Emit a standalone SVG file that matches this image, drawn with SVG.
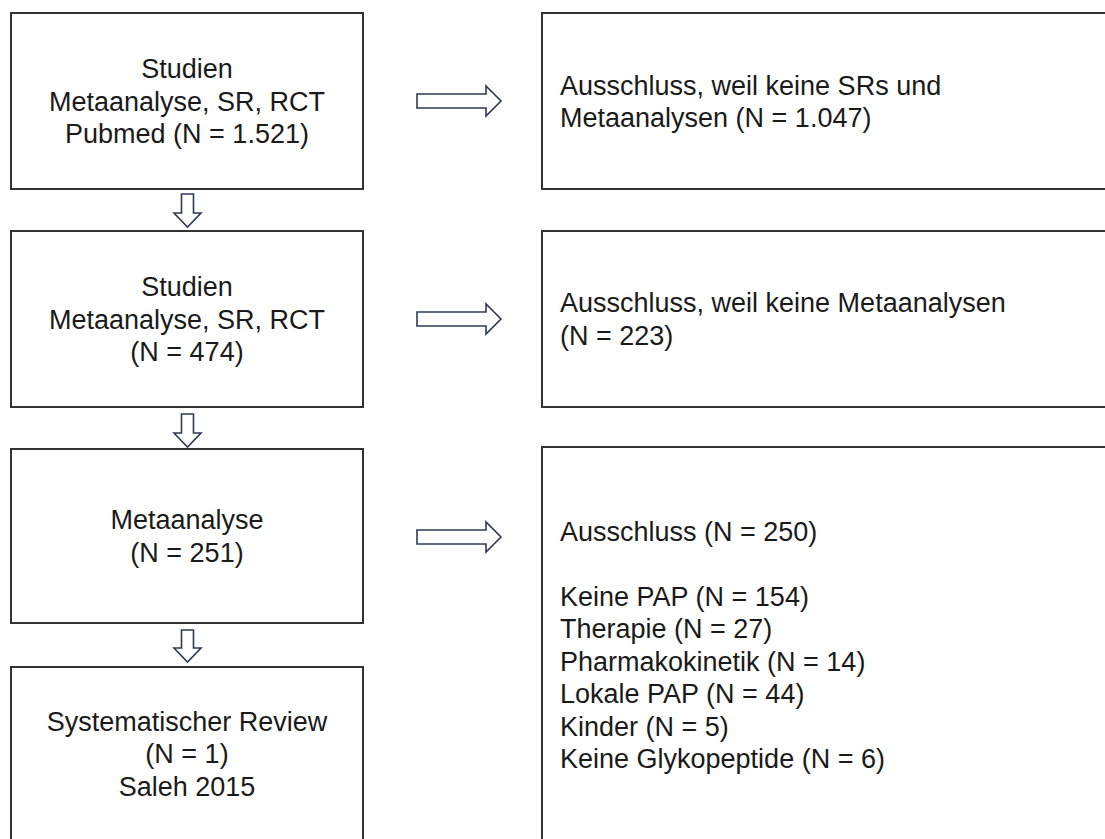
<svg xmlns="http://www.w3.org/2000/svg" width="1105" height="839" viewBox="0 0 1105 839">
<style>
.box{fill:#fff;stroke:#333;stroke-width:2}
.arr{fill:#fff;stroke:#2e3a55;stroke-width:1.6;stroke-linejoin:miter}
text{font-family:"Liberation Sans",Arial,sans-serif;font-size:27px;fill:#1a1a1a}
.c{text-anchor:middle}
</style>
<rect width="1105" height="839" fill="#fff"/>
<g id="connectors">
<path class="arr" d="M181.5,194 H193.5 V213 H201 L187.5,227 L174,213 H181.5 Z"/>
<path class="arr" d="M181.5,414 H193.5 V433 H201 L187.5,447 L174,433 H181.5 Z"/>
<path class="arr" d="M181.5,630 H193.5 V648 H201 L187.5,662 L174,648 H181.5 Z"/>
<path class="arr" d="M417,94 H486 V86 L501,101 L486,116 V108 H417 Z"/>
<path class="arr" d="M417,312 H486 V304 L501,319 L486,334 V326 H417 Z"/>
<path class="arr" d="M417,530 H486 V522 L501,537 L486,552 V544 H417 Z"/>
</g>
<g id="n1"><rect class="box" x="11" y="13" width="352" height="176"/>
<text class="c" x="187" y="78">Studien</text><text class="c" x="187" y="110.5">Metaanalyse, SR, RCT</text><text class="c" x="187" y="143">Pubmed (N = 1.521)</text></g>
<g id="n2"><rect class="box" x="11" y="231" width="352" height="176"/>
<text class="c" x="187" y="296">Studien</text><text class="c" x="187" y="328.5">Metaanalyse, SR, RCT</text><text class="c" x="187" y="361">(N = 474)</text></g>
<g id="n3"><rect class="box" x="11" y="449" width="352" height="174"/>
<text class="c" x="187" y="529">Metaanalyse</text><text class="c" x="187" y="561.5">(N = 251)</text></g>
<g id="n4"><rect class="box" x="11" y="667" width="352" height="190"/>
<text class="c" x="187" y="730.5">Systematischer Review</text><text class="c" x="187" y="763">(N = 1)</text><text class="c" x="187" y="795.5">Saleh 2015</text></g>
<g id="r1"><rect class="box" x="542" y="13" width="580" height="176"/>
<text x="560" y="94.5">Ausschluss, weil keine SRs und</text><text x="560" y="127">Metaanalysen (N = 1.047)</text></g>
<g id="r2"><rect class="box" x="542" y="231" width="580" height="176"/>
<text x="560" y="312">Ausschluss, weil keine Metaanalysen</text><text x="560" y="344.5">(N = 223)</text></g>
<g id="r3"><rect class="box" x="542" y="447" width="580" height="410"/>
<text x="560" y="540.5">Ausschluss (N = 250)</text>
<text x="560" y="605.5">Keine PAP (N = 154)</text>
<text x="560" y="638">Therapie (N = 27)</text>
<text x="560" y="670.5">Pharmakokinetik (N = 14)</text>
<text x="560" y="703">Lokale PAP (N = 44)</text>
<text x="560" y="735.5">Kinder (N = 5)</text>
<text x="560" y="768">Keine Glykopeptide (N = 6)</text></g>
</svg>
